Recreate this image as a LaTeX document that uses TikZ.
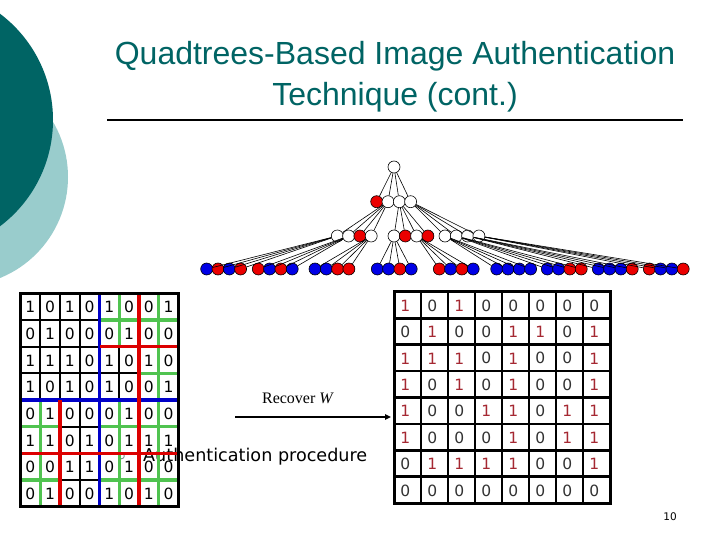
\documentclass[tikz,border=0pt]{standalone}
\usepackage{fontspec}
\usetikzlibrary{arrows.meta}
\newfontfamily\titlefont{Liberation Sans}
\newfontfamily\bodyfont{DejaVu Sans}
\newfontfamily\recfont{Liberation Serif}
\usepackage{xcolor}
\definecolor{darkteal}{RGB}{0,100,100}
\definecolor{lightteal}{RGB}{153,204,204}
\definecolor{qred}{RGB}{235,0,0}
\definecolor{qblue}{RGB}{0,0,230}
\definecolor{splitblue}{RGB}{0,0,200}
\definecolor{splitred}{RGB}{220,0,0}
\definecolor{splitgreen}{RGB}{80,195,80}
\definecolor{onecol}{RGB}{165,40,50}
\definecolor{zerocol}{RGB}{50,50,50}
\definecolor{bulletcol}{RGB}{120,150,140}

\tikzset{
  tnode/.style={circle, draw=black, line width=0.6pt, inner sep=0pt, minimum size=12pt},
  tedge/.style={line width=0.6pt},
  digit/.style={font=\bodyfont\fontsize{15.5}{15.5}\selectfont, inner sep=0pt},
  d0/.style={text=zerocol},
  d1/.style={text=onecol},
  split/.style={line width=3.4pt},
  title/.style={font=\titlefont\fontsize{32}{36}\selectfont, text=darkteal, anchor=base, inner sep=0pt}
}

\begin{document}
\begin{tikzpicture}[x=1pt, y=-1pt]
  \fill[white] (0,0) rectangle (720,540);
  \useasboundingbox (0,0) rectangle (720,540);

  % slide decoration
  \begin{scope}
    \clip (0,0) rectangle (720,540);
    \fill[lightteal] (-41,177) circle (109pt);
    \fill[darkteal] (-80,120) circle (133pt);
  \end{scope}

  % title
  \node[title] (title1) at (395,65) {Quadtrees-Based Image Authentication};
  \node[title] (title2) at (395,106) {Technique (cont.)};
  \draw[line width=1.8pt] (107,120) -- (683,120);

  % quadtree
  \node[tnode, fill=white] (root) at (394,167) {};
  \foreach \i/\c in {1/qred,2/white,3/white,4/white}
    \node[tnode, fill=\c] (l\i) at ({376.7+(\i-1)*11.3},201.7) {};
  \foreach \i/\c in {1/white,2/white,3/qred,4/white}
    \node[tnode, fill=\c] (a\i) at ({337.3+(\i-1)*11.3},236) {};
  \foreach \i/\c in {1/white,2/qred,3/white,4/qred}
    \node[tnode, fill=\c] (b\i) at ({394+(\i-1)*11.3},236) {};
  \foreach \i/\c in {1/white,2/white,3/white,4/white}
    \node[tnode, fill=\c] (c\i) at ({445+(\i-1)*11.3},236) {};
  \foreach \g/\x/\ca/\cb/\cc/\cd in {1/206.7/qblue/qred/qblue/qred,
      2/258.3/qred/qblue/qred/qblue, 3/315/qblue/qblue/qred/qred,
      4/377.3/qblue/qblue/qred/qblue, 5/439.3/qred/qblue/qred/qblue,
      6/496.7/qblue/qblue/qblue/qblue, 7/547.3/qblue/qblue/qred/qred,
      8/598.3/qblue/qblue/qblue/qred, 9/649.3/qred/qblue/qblue/qred} {
    \foreach \k/\c in {1/\ca,2/\cb,3/\cc,4/\cd}
      \node[tnode, fill=\c] (g\g-\k) at ({\x+(\k-1)*11.3},269) {};
  }
  \foreach \k in {1,...,4} {
    \draw[tedge] (root) -- (l\k);
    \draw[tedge] (l2) -- (a\k);
    \draw[tedge] (l3) -- (b\k);
    \draw[tedge] (l4) -- (c\k);
  }
  \foreach \p/\g in {a1/1,a2/2,a4/3,b1/4,b3/5,c1/6,c2/7,c3/8,c4/9}
    \foreach \k in {1,...,4}
      \draw[tedge] (\p) -- (g\g-\k);

  % bullet text (under the left grid)
  \draw[bulletcol, line width=0.9pt] (121.5,456) circle (2.8pt);
  \node[font=\bodyfont\fontsize{17.6}{20}\selectfont, anchor=base west, inner sep=0pt]
    (authproc) at (143,461) {Authentication procedure};

  % watermarked image with quadtree splits
  \begin{scope}[shift={(20.5,293.3)}, x=19.75pt, y=-26.67pt]
    \foreach \k in {1,...,7}
      \draw[line width=2pt] (\k,0) -- (\k,8) (0,\k) -- (8,\k);
    \foreach \row [count=\r] in {{1,0,1,0,1,0,0,1},{0,1,0,0,0,1,0,0},
        {1,1,1,0,1,0,1,0},{1,0,1,0,1,0,0,1},{0,1,0,0,0,1,0,0},
        {1,1,0,1,0,1,1,1},{0,0,1,1,0,1,0,0},{0,1,0,0,1,0,1,0}}
      \foreach \v [count=\c] in \row
        \node[digit] (lg-\r-\c) at (\c-0.5,\r-0.48) {\v};
    \draw[split, splitgreen] (4,1) -- (8,1) (5,0) -- (5,2) (7,0) -- (7,4)
      (6,3) -- (8,3) (1,4) -- (1,8) (0,5) -- (2,5) (0,7) -- (2,7)
      (5,4) -- (5,8) (7,4) -- (7,8) (4,5) -- (8,5) (4,7) -- (8,7);
    \draw[split, splitblue] (4,0) -- (4,8) (0,4) -- (8,4);
    \draw[split, splitred] (4,2) -- (8,2) (6,0) -- (6,4) (2,4) -- (2,8)
      (0,6) -- (8,6) (6,4) -- (6,8);
    \draw[line width=2.6pt] (0,0) rectangle (8,8);
  \end{scope}

  % recovered watermark
  \node[font=\recfont\fontsize{16}{18}\selectfont, anchor=base, inner sep=0pt]
    (recover) at (298,403) {Recover \textit{W}};
  \coordinate (arrstart) at (235,417);
  \coordinate (arrend) at (391,417);
  \draw[line width=1.8pt, -{Triangle[length=6pt, width=5.5pt]}] (arrstart) -- (arrend);

  \begin{scope}[shift={(394,291.7)}, x=27pt, y=-26.45pt]
    \foreach \row [count=\r] in {{1,0,1,0,0,0,0,0},{0,1,0,0,1,1,0,1},
        {1,1,1,0,1,0,0,1},{1,0,1,0,1,0,0,1},{1,0,0,1,1,0,1,1},
        {1,0,0,0,1,0,1,1},{0,1,1,1,1,0,0,1},{0,0,0,0,0,0,0,0}}
      \foreach \v [count=\c] in \row
        \node[digit, d\v] (rg-\r-\c) at (\c-0.58,\r-0.48) {\v};
    \foreach \k in {1,...,7}
      \draw[line width=2.8pt] (\k,0) -- (\k,8) (0,\k) -- (8,\k);
    \draw[line width=3pt] (0,0) rectangle (8,8);
  \end{scope}

  \node[font=\bodyfont\fontsize{10.5}{12}\selectfont, inner sep=0pt] (pagenum) at (670,517) {10};
\end{tikzpicture}
\end{document}
